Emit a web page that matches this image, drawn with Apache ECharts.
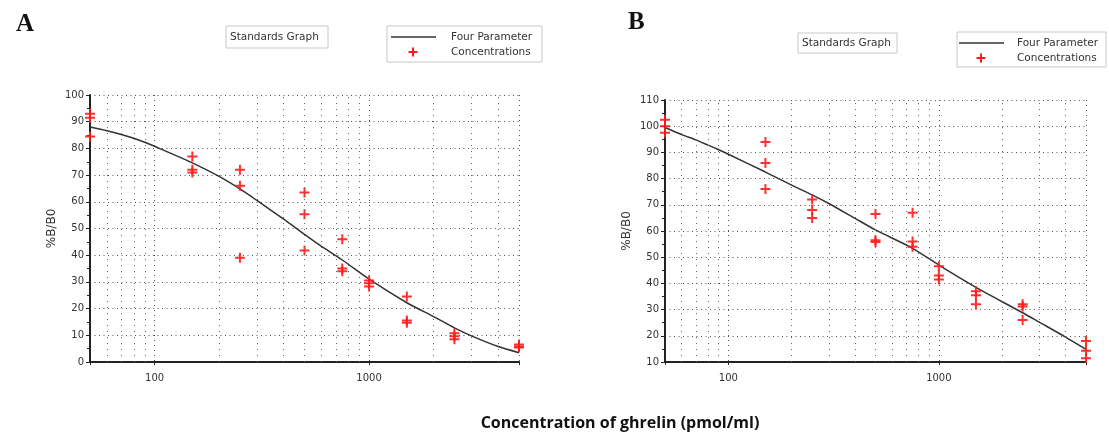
<!DOCTYPE html>
<html>
<head>
<meta charset="utf-8">
<script src="https://cdn.jsdelivr.net/npm/echarts@6/dist/echarts.min.js"></script>
<style>html,body{margin:0;padding:0;background:#fff}#c{width:1109px;height:438px}</style>
</head>
<body>
<div id="c"></div>
<script>
// ---------- data ----------
const standardsX = [50, 150, 250, 500, 750, 1000, 1500, 2500, 5000];
const pointsA = [[93, 91.5, 84.5], [77, 72, 71], [72, 66, 39], [63.5, 55.3, 41.8], [46, 35, 34], [30.5, 29.5, 28.3], [24.5, 15.5, 14.7], [10.8, 9.6, 8.5], [6.6, 5.8, 5.4]];
const pointsB = [[102.5, 100, 97.5], [94, 86, 76], [72, 68, 65], [66.5, 56.5, 55.8], [67, 56, 54], [46.5, 43, 41.5], [37, 35.5, 32], [32, 31.2, 26], [18, 14.3, 11.4]];
const curveXA = [50, 60, 70, 80, 90, 100, 150, 200, 250, 300, 400, 500, 600, 750, 1000, 1500, 2000, 2500, 3000, 4000, 5000];
const curveYA = [88, 86.6, 85.2, 83.8, 82.3, 80.8, 74.6, 69.5, 64.8, 60.5, 53.5, 47.8, 43.3, 38.2, 31, 22.2, 17, 12.8, 9.8, 5.8, 3.5];
const curveXB = [50, 60, 70, 80, 90, 100, 150, 200, 250, 300, 400, 500, 750, 1000, 1500, 2000, 2500, 3000, 4000, 5000];
const curveYB = [99.5, 96.8, 94.8, 92.8, 91, 89.3, 82.5, 77.5, 73.8, 70.5, 64.8, 60.4, 53.4, 47, 38.5, 33, 28.8, 25.2, 19.5, 14.8];
const minorGridX = [60, 70, 80, 90, 200, 300, 400, 500, 600, 700, 800, 900, 2000, 3000, 4000];
const xLabels = [100, 1000];
const yRangeA = [0, 100];
const yRangeB = [10, 110];
const panelTitles = ['A', 'B'];
const legendNames = ['Four Parameter', 'Concentrations'];
const boxTitle = 'Standards Graph';
const yName = '%B/B0';
const xName = 'Concentration of ghrelin (pmol/ml)';

// ---------- helpers ----------
const F = 'DejaVu Sans';
const PLUS = 'path://M4,0H6V4H10V6H6V10H4V6H0V4H4Z';
function pairs(xs, groups) {
  const out = [];
  xs.forEach((x, i) => groups[i].forEach(v => out.push([x, v])));
  return out;
}
function zip(xs, ys) { return xs.map((x, i) => [x, ys[i]]); }

function xAxisCfg(gi) {
  return {
    gridIndex: gi, type: 'log', logBase: 10, min: 50, max: 5000,
    axisLine: { show: true, lineStyle: { color: '#222', width: 2 } },
    axisTick: { show: true, length: 3, lineStyle: { color: '#222' } },
    axisLabel: {
      margin: 11, fontFamily: F, fontSize: 10, color: '#333',
      formatter: v => xLabels.some(t => Math.abs(t - v) < 1e-6) ? String(Math.round(v)) : ''
    },
    splitLine: { show: true, lineStyle: { color: '#555', type: [1, 4], width: 1 } }
  };
}
function yAxisCfg(gi, range, gap) {
  return {
    gridIndex: gi, type: 'value', min: range[0], max: range[1], interval: 10,
    name: yName, nameLocation: 'middle', nameRotate: 90, nameGap: gap,
    nameTextStyle: { fontFamily: F, fontSize: 12, color: '#333' },
    axisLine: { show: true, lineStyle: { color: '#222', width: 2 } },
    axisTick: { show: true, length: 4, lineStyle: { color: '#222' } },
    minorTick: { show: true, splitNumber: 2, length: 3, lineStyle: { color: '#222' } },
    axisLabel: { margin: 6, fontFamily: F, fontSize: 10, color: '#333' },
    splitLine: { show: true, lineStyle: { color: '#555', type: [1, 3.5], width: 1 } }
  };
}
function curveSeries(gi, xs, ys) {
  return {
    name: legendNames[0], type: 'line', xAxisIndex: gi, yAxisIndex: gi,
    data: zip(xs, ys), symbol: 'none', smooth: 0.25, z: 3,
    lineStyle: { color: '#333', width: 1.5 },
    markLine: {
      silent: true, symbol: ['none', 'none'], label: { show: false }, animation: false,
      lineStyle: { color: '#666', type: [1, 5], width: 1 },
      data: minorGridX.map(v => ({ xAxis: v }))
    }
  };
}
function pointSeries(gi, groups) {
  return {
    name: legendNames[1], type: 'scatter', xAxisIndex: gi, yAxisIndex: gi,
    data: pairs(standardsX, groups), symbol: PLUS, symbolSize: 10, z: 4,
    itemStyle: { color: '#ff1a1a', opacity: 0.9 }
  };
}
function legendGraphics(bx, by, bw, bh, lx, ly, tx, sbx, sby, sbw, sbh) {
  const g = [];
  const px = lx + 22, py = ly + 15;
  g.push({ type: 'rect', shape: { x: sbx, y: sby, width: sbw, height: sbh }, style: { fill: '#fff', stroke: '#c8c8c8', lineWidth: 1 } });
  g.push({ type: 'text', x: sbx + 4, y: sby + sbh / 2, style: { text: boxTitle, fontFamily: F, fontSize: 10.5, fill: '#333', verticalAlign: 'middle' } });
  g.push({ type: 'rect', shape: { x: bx, y: by, width: bw, height: bh }, style: { fill: '#fff', stroke: '#c8c8c8', lineWidth: 1 } });
  g.push({ type: 'line', shape: { x1: lx, y1: ly, x2: lx + 45, y2: ly }, style: { stroke: '#333', lineWidth: 1.5 } });
  g.push({ type: 'text', x: tx, y: ly, style: { text: legendNames[0], fontFamily: F, fontSize: 10.5, fill: '#333', verticalAlign: 'middle' } });
  g.push({ type: 'rect', shape: { x: px - 4.5, y: py - 1, width: 9, height: 2 }, style: { fill: '#ff1a1a' } });
  g.push({ type: 'rect', shape: { x: px - 1, y: py - 4.5, width: 2, height: 9 }, style: { fill: '#ff1a1a' } });
  g.push({ type: 'text', x: tx, y: py, style: { text: legendNames[1], fontFamily: F, fontSize: 10.5, fill: '#333', verticalAlign: 'middle' } });
  return g;
}

const chart = echarts.init(document.getElementById('c'), null, { renderer: 'canvas' });
chart.setOption({
  animation: false,
  backgroundColor: '#fff',
  title: [
    { text: panelTitles[0], left: 11, top: 7, textStyle: { fontFamily: 'Liberation Serif', fontWeight: 'bold', fontSize: 25, color: '#111' } },
    { text: panelTitles[1], left: 623, top: 5, textStyle: { fontFamily: 'Liberation Serif', fontWeight: 'bold', fontSize: 25, color: '#111' } }
  ],
  grid: [
    { left: 90, top: 95, width: 429, height: 267 },
    { left: 665, top: 100, width: 421, height: 262 }
  ],
  xAxis: [xAxisCfg(0), xAxisCfg(1)],
  yAxis: [yAxisCfg(0, yRangeA, 32), yAxisCfg(1, yRangeB, 32)],
  series: [
    curveSeries(0, curveXA, curveYA),
    pointSeries(0, pointsA),
    curveSeries(1, curveXB, curveYB),
    pointSeries(1, pointsB)
  ],
  graphic: [
    ...legendGraphics(387, 26, 155, 36, 391, 37, 451, 226, 26, 102, 22),
    ...legendGraphics(957, 32, 149, 35, 959, 43, 1017, 798, 33, 99, 20),
    { type: 'text', x: 620, y: 423, style: { text: xName, fontFamily: 'Open Sans', fontWeight: 'bold', fontSize: 16, fill: '#111', align: 'center', verticalAlign: 'middle' } }
  ]
});
</script>
</body>
</html>
